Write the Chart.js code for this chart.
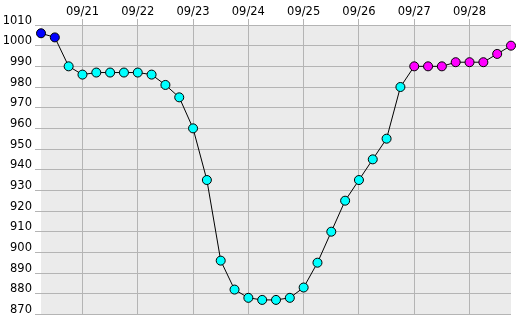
<!DOCTYPE html>
<html><head><meta charset="utf-8">
<script src="https://cdn.jsdelivr.net/npm/chart.js@4/dist/chart.umd.min.js"></script>
<style>html,body{margin:0;padding:0;background:#fff}#c{display:block}</style>
</head><body>
<canvas id="c" width="531" height="326"></canvas>
<script>
const times = ['09/20 06','09/20 12','09/20 18',
  '09/21 00','09/21 06','09/21 12','09/21 18',
  '09/22 00','09/22 06','09/22 12','09/22 18',
  '09/23 00','09/23 06','09/23 12','09/23 18',
  '09/24 00','09/24 06','09/24 12','09/24 18',
  '09/25 00','09/25 06','09/25 12','09/25 18',
  '09/26 00','09/26 06','09/26 12','09/26 18',
  '09/27 00','09/27 06','09/27 12','09/27 18',
  '09/28 00','09/28 06','09/28 12','09/28 18'];
const pressure = [1006,1004,990,
  986,987,987,987,
  987,986,981,975,
  960,935,896,882,
  878,877,877,878,
  883,895,910,925,
  935,945,955,980,
  990,990,990,992,
  992,992,996,1000];
const phase = ['A','A','B','B','B','B','B','B','B','B','B','B','B','B','B','B','B','B','B','B','B','B','B','B','B','B','B',
  'C','C','C','C','C','C','C','C'];
const yTicks = [870,880,890,900,910,920,930,940,950,960,970,980,990,1000,1010];

const phaseColor = {A:'#0000ff', B:'#00ffff', C:'#ff00ff'};
const isDay = i => times[i] && times[i].endsWith(' 00');

const bgPlugin = {
  id:'bg',
  beforeDraw(chart){
    const {ctx, chartArea:a} = chart;
    ctx.save(); ctx.fillStyle='#ebebeb';
    ctx.fillRect(a.left, a.top, a.right-a.left, a.bottom-a.top);
    ctx.restore();
  }
};

new Chart(document.getElementById('c'), {
  type:'line',
  data:{labels:times, datasets:[{
    data:pressure,
    borderColor:'#000', borderWidth:1,
    pointRadius:4.5, pointHoverRadius:4.5, pointBorderWidth:1, pointBorderColor:'#000',
    pointBackgroundColor: phase.map(p=>phaseColor[p]),
    tension:0
  }]},
  options:{
    responsive:false, animation:false,
    layout:{padding:{left:0,right:20,top:0,bottom:9}},
    plugins:{legend:{display:false}, tooltip:{enabled:false}},
    scales:{
      x:{type:'category', position:'top', offset:false,
        grid:{color:c=>isDay(c.index)?'#b4b4b4':'rgba(0,0,0,0)', tickLength:6, lineWidth:1},
        border:{display:false},
        ticks:{autoSkip:false, maxRotation:0, padding:0, color:'#000',
          font:{family:'DejaVu Sans', size:11.5},
          callback:(v,i)=>isDay(i)?times[i].split(' ')[0]:''},
        afterFit:s=>{s.height=25;}
      },
      y:{type:'linear', min:870, max:1010,
        afterBuildTicks:s=>{s.ticks=yTicks.map(v=>({value:v}));},
        grid:{color:'#b4b4b4', tickLength:6, lineWidth:1},
        border:{display:false},
        ticks:{padding:3, color:'#000', font:{family:'DejaVu Sans', size:11.5, lineHeight:0.75},
          callback:v=>[String(v),'']},
        afterFit:s=>{s.width=41;}
      }
    }
  },
  plugins:[bgPlugin]
});
</script>
</body></html>
